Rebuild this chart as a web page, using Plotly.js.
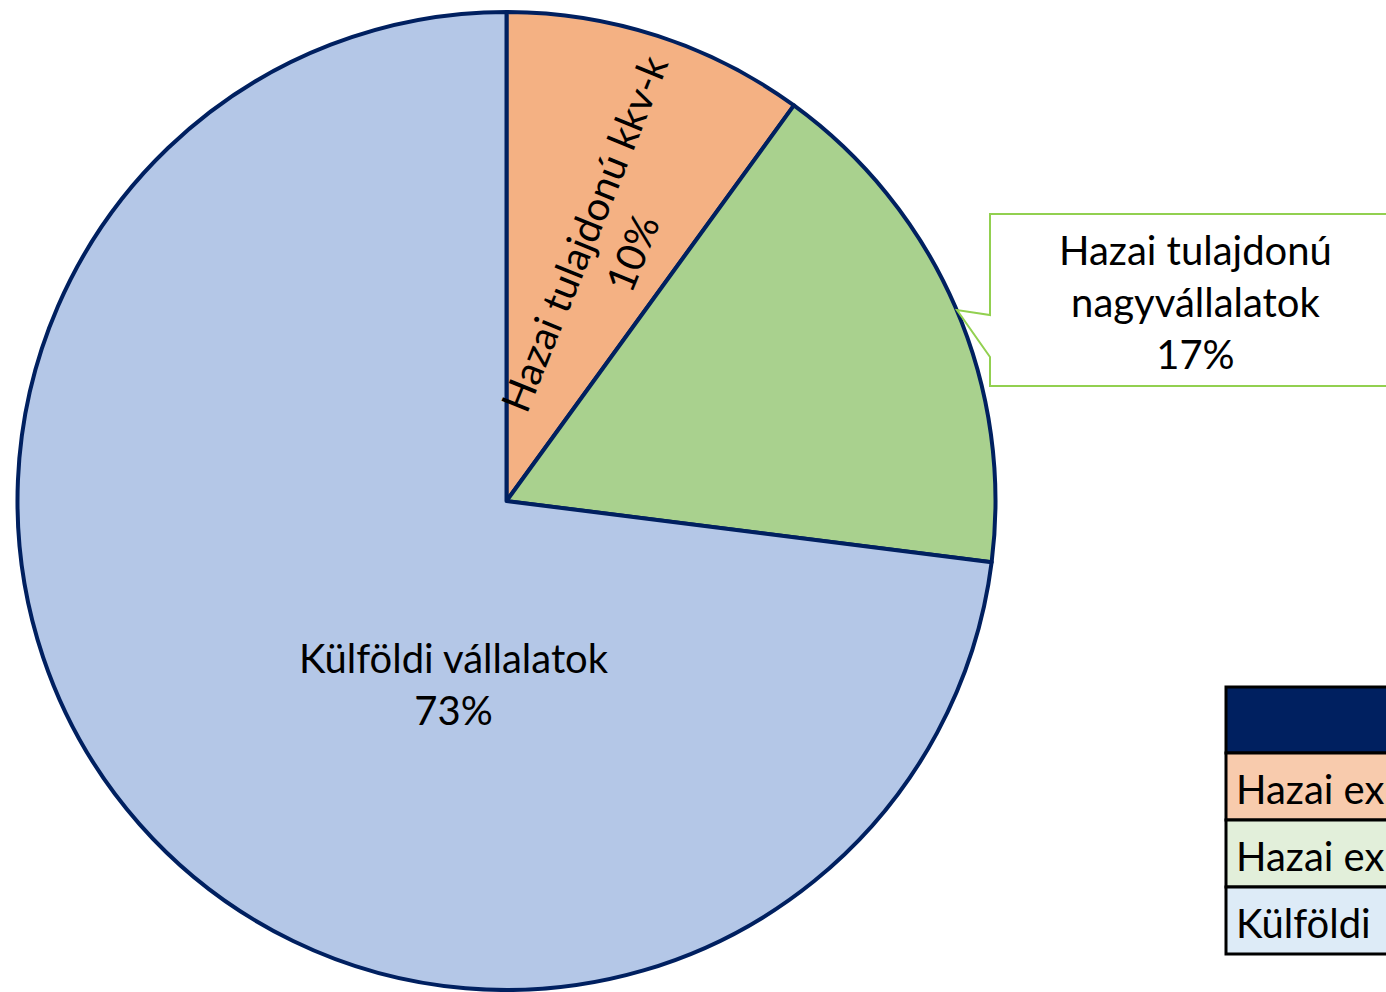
<!DOCTYPE html>
<html>
<head>
<meta charset="utf-8">
<script src="https://cdn.plot.ly/plotly-3.0.1.min.js"></script>
<style>html,body{margin:0;padding:0;background:#fff;overflow:hidden}#chart{width:1386px;height:992px}</style>
</head>
<body>
<div id="chart"></div>
<script>
// ---- data ----
const categories = ["Hazai tulajdonú kkv-k", "Hazai tulajdonú nagyvállalatok", "Külföldi vállalatok"];
const labelLines = [["Hazai tulajdonú kkv-k"], ["Hazai tulajdonú", "nagyvállalatok"], ["Külföldi vállalatok"]];
const shares = [10, 17, 73];
const sliceColors = ["#F4B183", "#A9D18E", "#B4C7E7"];
const tableRows = ["Hazai ex", "Hazai ex", "Külföldi"];
const tableColors = ["#F8CBAD", "#E2EFDA", "#DDEBF7"];

const W = 1386, H = 992;
const px = x => x / W;
const py = y => 1 - y / H;
const FONT = "Lato, 'Open Sans', sans-serif";

const total = shares.reduce((a, b) => a + b, 0);
const pct = v => Math.round(v / total * 100) + "%";

const trace = {
  type: "pie",
  labels: categories,
  values: shares,
  sort: false,
  direction: "clockwise",
  rotation: 0,
  textinfo: "none",
  hoverinfo: "label+percent",
  marker: { colors: sliceColors, line: { color: "#002060", width: 4 } },
  domain: { x: [px(16), px(997)], y: [py(990), py(12)] },
  showlegend: false
};

const annotations = [
  { // orange slice, rotated
    x: px(608), y: py(243), xref: "paper", yref: "paper",
    xanchor: "center", yanchor: "middle",
    text: labelLines[0].join("<br>") + "<br>" + pct(shares[0]),
    showarrow: false, textangle: -68,
    font: { family: FONT, size: 40, color: "#000" }
  },
  { // callout
    x: px(1195), y: py(302), xref: "paper", yref: "paper",
    xanchor: "center", yanchor: "middle",
    text: labelLines[1].join("<br>") + "<br>" + pct(shares[1]),
    showarrow: false,
    font: { family: FONT, size: 40, color: "#000" }
  },
  { // blue slice
    x: px(454), y: py(684), xref: "paper", yref: "paper",
    xanchor: "center", yanchor: "middle",
    text: labelLines[2].join("<br>") + "<br>" + pct(shares[2]),
    showarrow: false,
    font: { family: FONT, size: 40, color: "#000" }
  }
];

const shapes = [];
// callout box with pointer
const cp = [[990,214],[1420,214],[1420,386],[990,386],[990,357],[957,310],[990,315]];
shapes.push({
  type: "path", xref: "paper", yref: "paper",
  path: "M " + cp.map(p => px(p[0]) + "," + py(p[1])).join(" L ") + " Z",
  fillcolor: "#FFFFFF", line: { color: "#92D050", width: 2 }
});

// table at bottom right (cut by page edge)
const tLeft = 1226, tRight = 1440;
const rowEdges = [687, 753, 820, 887, 954];
shapes.push({
  type: "rect", xref: "paper", yref: "paper",
  x0: px(tLeft), x1: px(tRight), y0: py(rowEdges[1]), y1: py(rowEdges[0]),
  fillcolor: "#002060", line: { color: "#000", width: 3 }
});
tableRows.forEach((t, i) => {
  shapes.push({
    type: "rect", xref: "paper", yref: "paper",
    x0: px(tLeft), x1: px(tRight), y0: py(rowEdges[i + 2]), y1: py(rowEdges[i + 1]),
    fillcolor: tableColors[i], line: { color: "#000", width: 3 }
  });
  annotations.push({
    x: px(1234), y: py((rowEdges[i + 1] + rowEdges[i + 2]) / 2 + 2), xref: "paper", yref: "paper",
    xanchor: "left", yanchor: "middle",
    text: t, showarrow: false,
    font: { family: FONT, size: 40, color: "#000" }
  });
});

const layout = {
  width: W, height: H,
  margin: { l: 0, r: 0, t: 0, b: 0 },
  paper_bgcolor: "#FFFFFF",
  showlegend: false,
  annotations, shapes
};

Plotly.newPlot("chart", [trace], layout, { displayModeBar: false, staticPlot: true });
</script>
</body>
</html>
